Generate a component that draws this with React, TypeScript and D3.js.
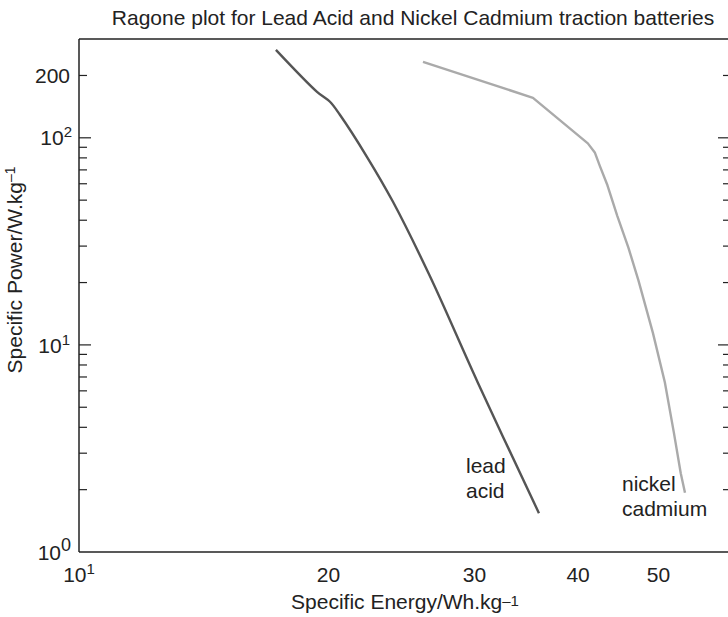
import React from "react";
import * as d3 from "d3";

const leadEnergy = [17.28, 19.37, 20.08, 20.64, 22.25, 23.92, 26.5, 30.29, 35.88];
const leadPower = [266, 166.8, 149.3, 129.2, 81.0, 49.1, 21.5, 6.55, 1.54];
const nicdEnergy = [26.0, 35.29, 41.1, 41.9, 42.5, 43.4, 44.6, 46.0, 47.3, 49.24, 50.9, 52.2, 53.2, 53.83];
const nicdPower = [232.8, 156, 94, 85, 73, 59, 42, 29.5, 20.5, 11.43, 6.6, 3.76, 2.4, 1.93];
const xTickValues = [20, 30, 40, 50];
const yMinorTicks = [2, 3, 4, 5, 6, 7, 8, 9, 20, 30, 40, 50, 60, 70, 80, 90, 200];
const yMajorTicks = [10, 100];

const W = 728, H = 617;
const FONT = "'Liberation Sans', Arial, Helvetica, sans-serif";
const FS = 21;

export default function App() {
  const x = d3.scaleLog().domain([10, 61]).range([79, 730]);
  const y = d3.scaleLog().domain([1, 300]).range([552, 39]);
  const leadLine = d3
    .line<[number, number]>()
    .x((d) => x(d[0]))
    .y((d) => y(d[1]))
    .curve(d3.curveCatmullRom.alpha(0.5));
  const nicdLine = d3
    .line<[number, number]>()
    .x((d) => x(d[0]))
    .y((d) => y(d[1]))
    .curve(d3.curveLinear);
  const lead = leadEnergy.map((e, i) => [e, leadPower[i]] as [number, number]);
  const nicd = nicdEnergy.map((e, i) => [e, nicdPower[i]] as [number, number]);
  const x0 = x(10), x1 = x(61), y0 = y(1), y1 = y(300);
  const txt = "#222";
  return (
    <svg width={W} height={H} style={{ position: "absolute", left: 0, top: 0, background: "#fff" }} fontFamily={FONT}>
      <rect x={0} y={0} width={W} height={H} fill="#fff" />
      <text x={413} y={25} fontSize={FS} textAnchor="middle" fill={txt}>
        Ragone plot for Lead Acid and Nickel Cadmium traction batteries
      </text>
      {/* frame */}
      <line x1={x0} x2={x1} y1={y1} y2={y1} stroke="#222" strokeWidth={1.5} />
      <line x1={x0} x2={x1} y1={y0} y2={y0} stroke="#222" strokeWidth={1.5} />
      <line x1={x0} x2={x0} y1={y0} y2={y1} stroke="#222" strokeWidth={1.5} />
      <line x1={x1} x2={x1} y1={y0} y2={y1} stroke="#222" strokeWidth={1.5} />
      {yMinorTicks.map((v) => (
        <g key={"m" + v}>
          <line x1={x0} x2={x0 + 8} y1={y(v)} y2={y(v)} stroke="#222" strokeWidth={1.2} />
          <line x1={x1} x2={x1 - 7} y1={y(v)} y2={y(v)} stroke="#222" strokeWidth={1.2} />
        </g>
      ))}
      {yMajorTicks.map((v) => (
        <g key={"M" + v}>
          <line x1={x0} x2={x0 + 12} y1={y(v)} y2={y(v)} stroke="#222" strokeWidth={1.2} />
          <line x1={x1} x2={x1 - 12} y1={y(v)} y2={y(v)} stroke="#222" strokeWidth={1.2} />
        </g>
      ))}
      {/* y tick labels */}
      <text x={70} y={y(200) + 7.5} fontSize={FS} textAnchor="end" fill={txt}>200</text>
      <text x={72} y={y(100) + 7.5} fontSize={FS} textAnchor="end" fill={txt}>
        10<tspan dy={-8} fontSize={15}>2</tspan>
      </text>
      <text x={70} y={y(10) + 8} fontSize={FS} textAnchor="end" fill={txt}>
        10<tspan dy={-8} fontSize={15}>1</tspan>
      </text>
      <text x={71} y={y(1) + 8} fontSize={FS} textAnchor="end" fill={txt}>
        10<tspan dy={-9} fontSize={18}>0</tspan>
      </text>
      {/* x tick labels */}
      <text x={x0} y={582} fontSize={FS} textAnchor="middle" fill={txt}>
        10<tspan dy={-8} fontSize={15}>1</tspan>
      </text>
      {xTickValues.map((v) => (
        <text key={"x" + v} x={x(v)} y={582} fontSize={FS} textAnchor="middle" fill={txt}>
          {v}
        </text>
      ))}
      <text x={405} y={609} fontSize={FS} textAnchor="middle" fill={txt}>
        Specific Energy/Wh.kg<tspan fontSize={15} dy={-3}>–1</tspan>
      </text>
      <text transform={`translate(22,${270}) rotate(-90)`} fontSize={FS} textAnchor="middle" fill={txt}>
        Specific Power/W.kg<tspan fontSize={14} dy={-7}>–1</tspan>
      </text>
      {/* curves */}
      <path d={leadLine(lead) || ""} fill="none" stroke="#555" strokeWidth={2.4} />
      <path d={nicdLine(nicd) || ""} fill="none" stroke="#aaa" strokeWidth={2.4} strokeLinejoin="round" />
      {/* labels */}
      <text x={466} y={473} fontSize={FS} fill={txt}>lead</text>
      <text x={466} y={498} fontSize={FS} fill={txt}>acid</text>
      <text x={622} y={491} fontSize={FS} fill={txt}>nickel</text>
      <text x={622} y={516} fontSize={FS} fill={txt}>cadmium</text>
    </svg>
  );
}
